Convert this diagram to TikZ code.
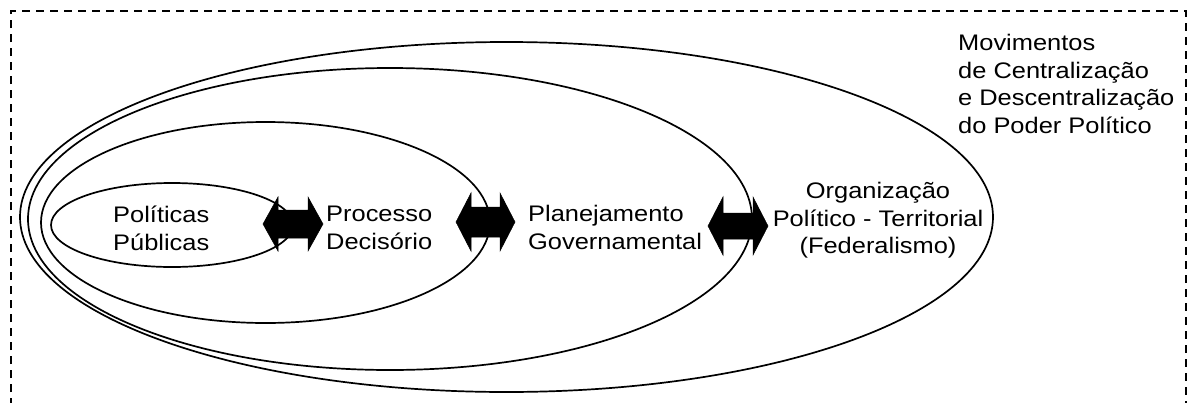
\documentclass[tikz,border=0pt]{standalone}
\usepackage{fontspec}
\setmainfont{Liberation Sans}[FakeStretch=1.13]
\usetikzlibrary{shapes.geometric}
\tikzset{
  frame/.style={line width=1.4pt, dash pattern=on 8pt off 6pt},
  ring/.style={ellipse, draw, line width=1.7pt, inner sep=0pt},
  lbl/.style={inner sep=0pt, font=\fontsize{22.5}{27.5}\selectfont},
  bigarrow/.style={fill=black, draw=black, line width=0.5pt, line join=miter}
}
\newcommand{\dblarrow}[5]{% x0 x1 cy headhalf shafthalf
  \fill[bigarrow] (#1,#3) -- (#1+15,#3-#4) -- (#1+15,#3-#5) -- (#2-15,#3-#5) -- (#2-15,#3-#4)
    -- (#2,#3) -- (#2-15,#3+#4) -- (#2-15,#3+#5) -- (#1+15,#3+#5) -- (#1+15,#3+#4) -- cycle;}
\begin{document}
\begin{tikzpicture}[x=1pt,y=-1pt]
\useasboundingbox (0,0) rectangle (1194,402);
\clip (0,0) rectangle (1194,402);
\fill[white] (0,0) rectangle (1194,402);
\draw[frame] (11,420) -- (11,11) -- (1186,11) -- (1186,420);
% ellipses
\node[ring, minimum width=973pt, minimum height=350pt] (e4) at (506.5,217) {};
\node[ring, minimum width=724pt, minimum height=302pt] (e3) at (390,219) {};
\node[ring, minimum width=449pt, minimum height=201pt] (e2) at (265.5,222.5) {};
\node[ring, minimum width=242pt, minimum height=84pt] (e1) at (172,225) {};
% arrows
\dblarrow{263}{323}{224}{27}{14}
\dblarrow{456}{515}{222}{29}{15}
\dblarrow{708}{768}{226}{29}{13}
% labels
\node[lbl, anchor=north west, align=left] (pol) at (113,206) {Políticas\\Públicas};
\node[lbl, anchor=north west, align=left] (proc) at (326,206) {Processo\\Decisório};
\node[lbl, anchor=north west, align=left] (plan) at (528,205) {Planejamento\\Governamental};
\node[lbl, anchor=north, align=center] (org) at (878,182) {Organização\\Político - Territorial\\(Federalismo)};
\node[lbl, anchor=north west, align=left] (mov) at (958,34) {Movimentos\\de Centralização\\e Descentralização\\do Poder Político};
\end{tikzpicture}
\end{document}
